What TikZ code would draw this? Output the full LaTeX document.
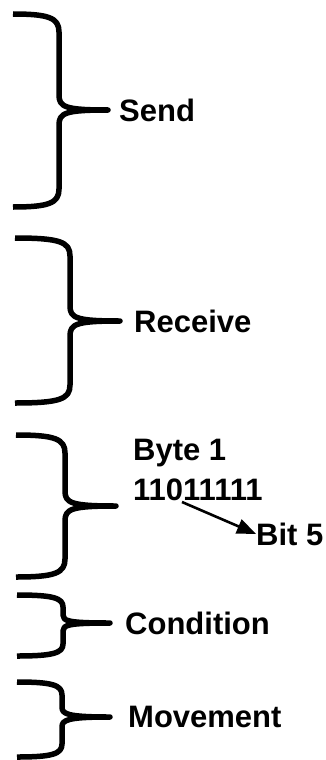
\documentclass[tikz,border=0pt]{standalone}
\usepackage{fontspec}
\setmainfont{Liberation Sans}
\usepackage{tikz}
\usetikzlibrary{arrows.meta,positioning}

\begin{document}
\begin{tikzpicture}[x=1pt,y=-1pt]
\tikzstyle{bracket}=[line width=5.5pt,line join=round]
\tikzstyle{txt}=[inner sep=0pt,font=\bfseries\fontsize{31}{37}\selectfont]
\tikzstyle{arrow}=[line width=2.6pt,-{Triangle[length=19pt,width=15pt]}]
\useasboundingbox (0,0) rectangle (326,760);
\draw [bracket] (13,14) .. controls (49,14) and (59,18) .. (59,32) -- (59,95)
  .. controls (59,107) and (65,110) .. (108,110) coordinate (tipsend)
  .. controls (65,110) and (59,113) .. (59,125) -- (59,189)
  .. controls (59,203) and (49,207) .. (13,207);
\draw [bracket] (15,238) .. controls (60,238) and (70,242) .. (70,256) -- (70,306)
  .. controls (70,318) and (76,321) .. (120,321) coordinate (tiprecv)
  .. controls (76,321) and (70,324) .. (70,336) -- (70,385)
  .. controls (70,399) and (60,403) .. (15,403);
\draw [bracket] (16,435) .. controls (55,435) and (65,439) .. (65,453) -- (65,491)
  .. controls (65,503) and (71,506) .. (116,506) coordinate (tipbyte)
  .. controls (71,506) and (65,509) .. (65,521) -- (65,559)
  .. controls (65,573) and (55,577) .. (16,577);
\draw [bracket] (17,595) .. controls (53,595) and (63,598) .. (63,607) -- (63,615)
  .. controls (63,621) and (68,623) .. (110,623) coordinate (tipcond)
  .. controls (68,623) and (63,625) .. (63,631) -- (63,644)
  .. controls (63,653) and (53,656) .. (17,656);
\draw [bracket] (17,682) .. controls (52,682) and (62,685) .. (62,695) -- (62,707)
  .. controls (62,714) and (67,717) .. (110,717) coordinate (tipmove)
  .. controls (67,717) and (62,720) .. (62,727) -- (62,744)
  .. controls (62,754) and (52,757) .. (17,757);
\node [txt,right=11pt of tipsend] (send) {Send};
\node [txt,right=14pt of tiprecv] (recv) {Receive};
\node [txt,anchor=base west] at (133,460) (byte) {Byte 1};
\node [txt,anchor=base west] at (133,500) (bits) {11011111};
\node [txt,anchor=base west] at (256,545) (bit5) {Bit 5};
\node [txt,right=15pt of tipcond] (cond) {Condition};
\node [txt,right=18pt of tipmove] (move) {Movement};
\coordinate (bitfive) at (182,502);
\draw [arrow] (bitfive) -- (bit5.west);
\end{tikzpicture}
\end{document}
